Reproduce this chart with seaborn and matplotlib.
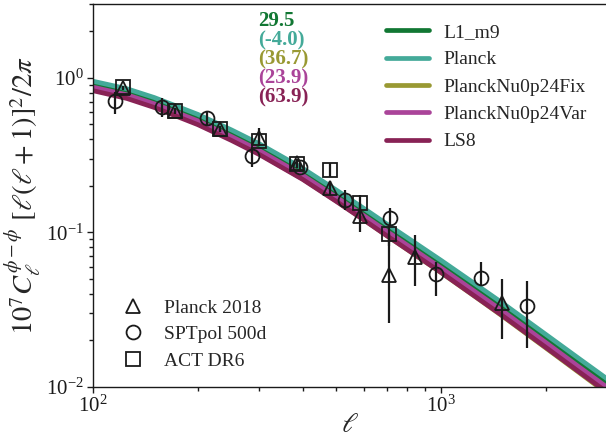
import numpy as np
import pandas as pd
import seaborn as sns
import matplotlib
matplotlib.use("Agg")
import matplotlib.pyplot as plt
from matplotlib.lines import Line2D
from matplotlib.ticker import LogLocator, NullFormatter

# theory curves
ell = [100, 125, 150, 200, 250, 300, 400, 500, 600, 700, 800, 1000, 1250, 1500, 2000, 2500, 3000]
L1_m9 = [0.915, 0.818, 0.716, 0.556, 0.441, 0.359, 0.248, 0.179, 0.136, 0.1076, 0.088, 0.0626,
         0.0442, 0.0331, 0.0207, 0.01435, 0.01064]
Planck = [0.95, 0.85, 0.745, 0.58, 0.46, 0.375, 0.26, 0.188, 0.143, 0.113, 0.0925, 0.066,
          0.0466, 0.035, 0.0219, 0.0152, 0.0113]
Nu_fix = [0.8437, 0.75, 0.6542, 0.5051, 0.3981, 0.3228, 0.222, 0.1596, 0.1208, 0.095, 0.0775, 0.055,
          0.0386, 0.0288, 0.0179, 0.01235, 0.00911]
Nu_var = [0.869, 0.776, 0.6785, 0.5265, 0.4166, 0.3389, 0.2343, 0.169, 0.1283, 0.1012, 0.0827, 0.0589,
          0.0415, 0.0311, 0.0194, 0.01342, 0.00996]
LS8 = [0.825, 0.7354, 0.6425, 0.4977, 0.3932, 0.3196, 0.2205, 0.1588, 0.1204, 0.0949, 0.0775, 0.0551,
       0.0387, 0.029, 0.01806, 0.01248, 0.00925]

models = ["L1_m9", "Planck", "PlanckNu0p24Fix", "PlanckNu0p24Var", "LS8"]
curves = [L1_m9, Planck, Nu_fix, Nu_var, LS8]
colors = ["#117733", "#44AA99", "#999933", "#AA4499", "#882255"]
chi2 = ["29.5", "(-4.0)", "(36.7)", "(23.9)", "(63.9)"]

# data points
planck_l = [122, 172, 232, 300, 385, 479, 586, 707, 840, 1496]
planck_v = [0.86, 0.61, 0.465, 0.41, 0.28, 0.194, 0.127, 0.053, 0.069, 0.035]
planck_lo = [0.03, 0.025, 0.02, 0.05, 0.02, 0.02, 0.027, 0.027, 0.024, 0.0145]
planck_hi = [0.03, 0.025, 0.02, 0.06, 0.02, 0.02, 0.027, 0.045, 0.027, 0.015]

spt_l = [116, 158, 213, 286, 393, 529, 715, 967, 1303, 1771]
spt_v = [0.71, 0.65, 0.55, 0.314, 0.264, 0.163, 0.124, 0.054, 0.0507, 0.0333]
spt_lo = [0.13, 0.095, 0.06, 0.05, 0.02, 0.024, 0.013, 0.0155, 0.006, 0.0155]
spt_hi = [0.10, 0.095, 0.06, 0.045, 0.02, 0.024, 0.019, 0.01, 0.014, 0.015]

act_l = [122, 172, 232, 299, 385, 479, 586, 707]
act_v = [0.866, 0.612, 0.467, 0.392, 0.277, 0.254, 0.155, 0.097]
act_lo = [0.02, 0.02, 0.02, 0.02, 0.015, 0.025, 0.02, 0.015]
act_hi = [0.02, 0.02, 0.02, 0.02, 0.015, 0.025, 0.02, 0.015]

sns.set_theme(style="ticks")
plt.rcParams["font.family"] = ["Liberation Serif", "DejaVu Serif"]
plt.rcParams["mathtext.fontset"] = "stix"

fig = plt.figure(figsize=(6.06, 4.43), dpi=100)
ax = fig.add_axes([93 / 606, 56 / 443, 514 / 606, 383 / 443])
ax.set_xscale("log")
ax.set_yscale("log")

for name, vals, c in zip(models, curves, colors):
    df = pd.DataFrame({"ell": ell, "val": vals})
    sns.lineplot(data=df, x="ell", y="val", color=c, lw=3.4, label=name, ax=ax, estimator=None)

pts = [(planck_l, planck_v, planck_lo, planck_hi, "^", "Planck 2018"),
       (spt_l, spt_v, spt_lo, spt_hi, "o", "SPTpol 500d"),
       (act_l, act_v, act_lo, act_hi, "s", "ACT DR6")]
for lx, vy, lo, hi, m, lab in pts:
    ax.errorbar(lx, vy, yerr=[lo, hi], fmt=m, mfc="none", mec="k", mew=1.3, ms=10,
                ecolor="k", elinewidth=1.6, capsize=0, zorder=5)

ax.set_xlim(100, 3000)
ax.set_ylim(0.01, 3)
for axis in (ax.xaxis, ax.yaxis):
    axis.set_minor_locator(LogLocator(base=10, subs=np.arange(2, 10), numticks=20))
    axis.set_minor_formatter(NullFormatter())
ax.set_xlabel(r"$\ell$", fontsize=20, labelpad=-3)
ax.set_ylabel(r"$10^7 C_\ell^{\phi-\phi}\ [\ell(\ell+1)]^2/2\pi$", fontsize=20.5, labelpad=2)
ax.tick_params(which="major", direction="out", length=4.5, width=1.0, labelsize=15, colors="k",
               pad=2)
ax.tick_params(which="minor", direction="out", length=3, width=1.0, colors="k")
ax.tick_params(which="both", top=False, right=False, left=True, bottom=True)
for sp in ax.spines.values():
    sp.set_color("k")
    sp.set_linewidth(1.0)

for i, (t, c) in enumerate(zip(chi2, colors)):
    ax.text(0.322, 0.955 - i * 0.05, t, color=c, fontsize=15, fontweight="bold",
            transform=ax.transAxes, ha="left", va="center")

leg1 = ax.legend(loc="upper right", bbox_to_anchor=(0.995, 0.995), frameon=False, fontsize=14,
                 handlelength=2.2, handletextpad=0.75, labelspacing=0.5)
ax.add_artist(leg1)

handles = [Line2D([], [], ls="none", marker=m, mfc="none", mec="k", mew=1.3, ms=10)
           for m in ["^", "o", "s"]]
ax.legend(handles, ["Planck 2018", "SPTpol 500d", "ACT DR6"], loc="lower left",
          bbox_to_anchor=(0.005, 0.0), frameon=False, fontsize=14, handletextpad=0.6,
          labelspacing=0.45)

fig.savefig("out.png", dpi=100)
